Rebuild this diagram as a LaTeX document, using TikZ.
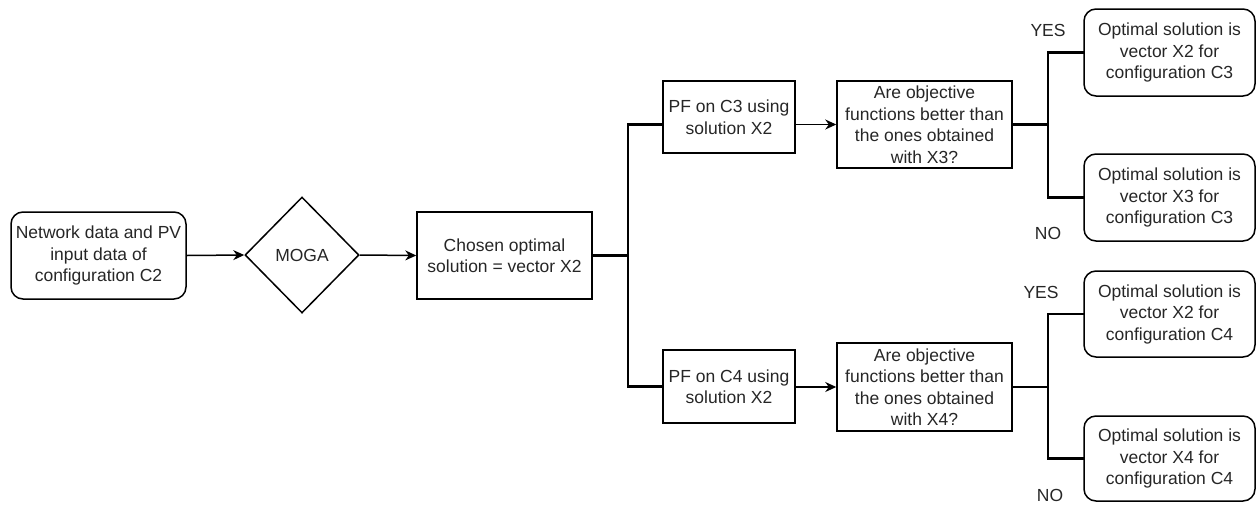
\documentclass[tikz,border=0pt]{standalone}
\usepackage{fontspec}
\setmainfont{Liberation Sans}
\usetikzlibrary{shapes.geometric,arrows.meta}
\begin{document}
\begin{tikzpicture}[x=1pt,y=-1pt,
  txt/.style={font=\fontsize{17.5}{21.5}\selectfont, text=black!85, align=center, inner sep=0pt},
  sqbox/.style={txt, draw, line width=1.5pt, rectangle},
  rbox/.style={txt, draw, line width=1.5pt, rectangle, rounded corners=12pt},
  dia/.style={txt, draw, line width=1.5pt, diamond, aspect=1},
  arr/.style={line width=1.5pt, -{Stealth[length=11pt,width=10pt]}},
  tree/.style={line width=2.6pt, line cap=rect}
]
\useasboundingbox (0,0) rectangle (1256,504);

\node[rbox, minimum width=175pt, minimum height=87pt] (start) at (98.5,255.5) {Network data and PV\\input data of\\configuration C2};
\node[dia, minimum width=114pt, minimum height=116pt] (moga) at (302,255) {MOGA};
\node[sqbox, minimum width=175pt, minimum height=87pt] (chosen) at (504.5,255.5) {Chosen optimal\\solution = vector X2};
\node[sqbox, minimum width=132pt, minimum height=72pt] (pf3) at (729,117) {PF on C3 using\\solution X2};
\node[sqbox, minimum width=132pt, minimum height=73pt] (pf4) at (729,386.5) {PF on C4 using\\solution X2};
\node[sqbox, minimum width=175pt, minimum height=87pt] (dec3) at (924.5,124.5) {Are objective\\functions better than\\the ones obtained\\with X3?};
\node[sqbox, minimum width=175pt, minimum height=88pt] (dec4) at (924.5,387) {Are objective\\functions better than\\the ones obtained\\with X4?};
\node[rbox, minimum width=171pt, minimum height=87pt] (r32) at (1169.5,52.5) {Optimal solution is\\vector X2 for\\configuration C3};
\node[rbox, minimum width=171pt, minimum height=87pt] (r33) at (1169.5,197.5) {Optimal solution is\\vector X3 for\\configuration C3};
\node[rbox, minimum width=171pt, minimum height=86pt] (r42) at (1169.5,314) {Optimal solution is\\vector X2 for\\configuration C4};
\node[rbox, minimum width=171pt, minimum height=85pt] (r44) at (1169.5,458.5) {Optimal solution is\\vector X4 for\\configuration C4};

\node[txt] (yes3) at (1048,30) {YES};
\node[txt] (no3) at (1048,233) {NO};
\node[txt] (yes4) at (1041,292) {YES};
\node[txt] (no4) at (1050,495) {NO};

\draw[arr] (start.east) -- (moga.west);
\draw[arr] (moga.east) -- (chosen.west);

\coordinate (b1) at (628,255.5);
\draw[tree] (chosen.east) -- (b1);
\draw[tree] (b1) |- (pf3.west |- dec3.west);
\draw[tree] (b1) |- (pf4.west);

\draw[arr] (pf3.east |- dec3.west) -- (dec3.west);
\draw[arr] (pf4.east |- dec4.west) -- (dec4.west);

\coordinate (b3) at (1048,124.5);
\draw[tree] (dec3.east) -- (b3);
\draw[tree] (b3) |- (r32.west);
\draw[tree] (b3) |- (r33.west);

\coordinate (b4) at (1048,387);
\draw[tree] (dec4.east) -- (b4);
\draw[tree] (b4) |- (r42.west);
\draw[tree] (b4) |- (r44.west);
\end{tikzpicture}
\end{document}
